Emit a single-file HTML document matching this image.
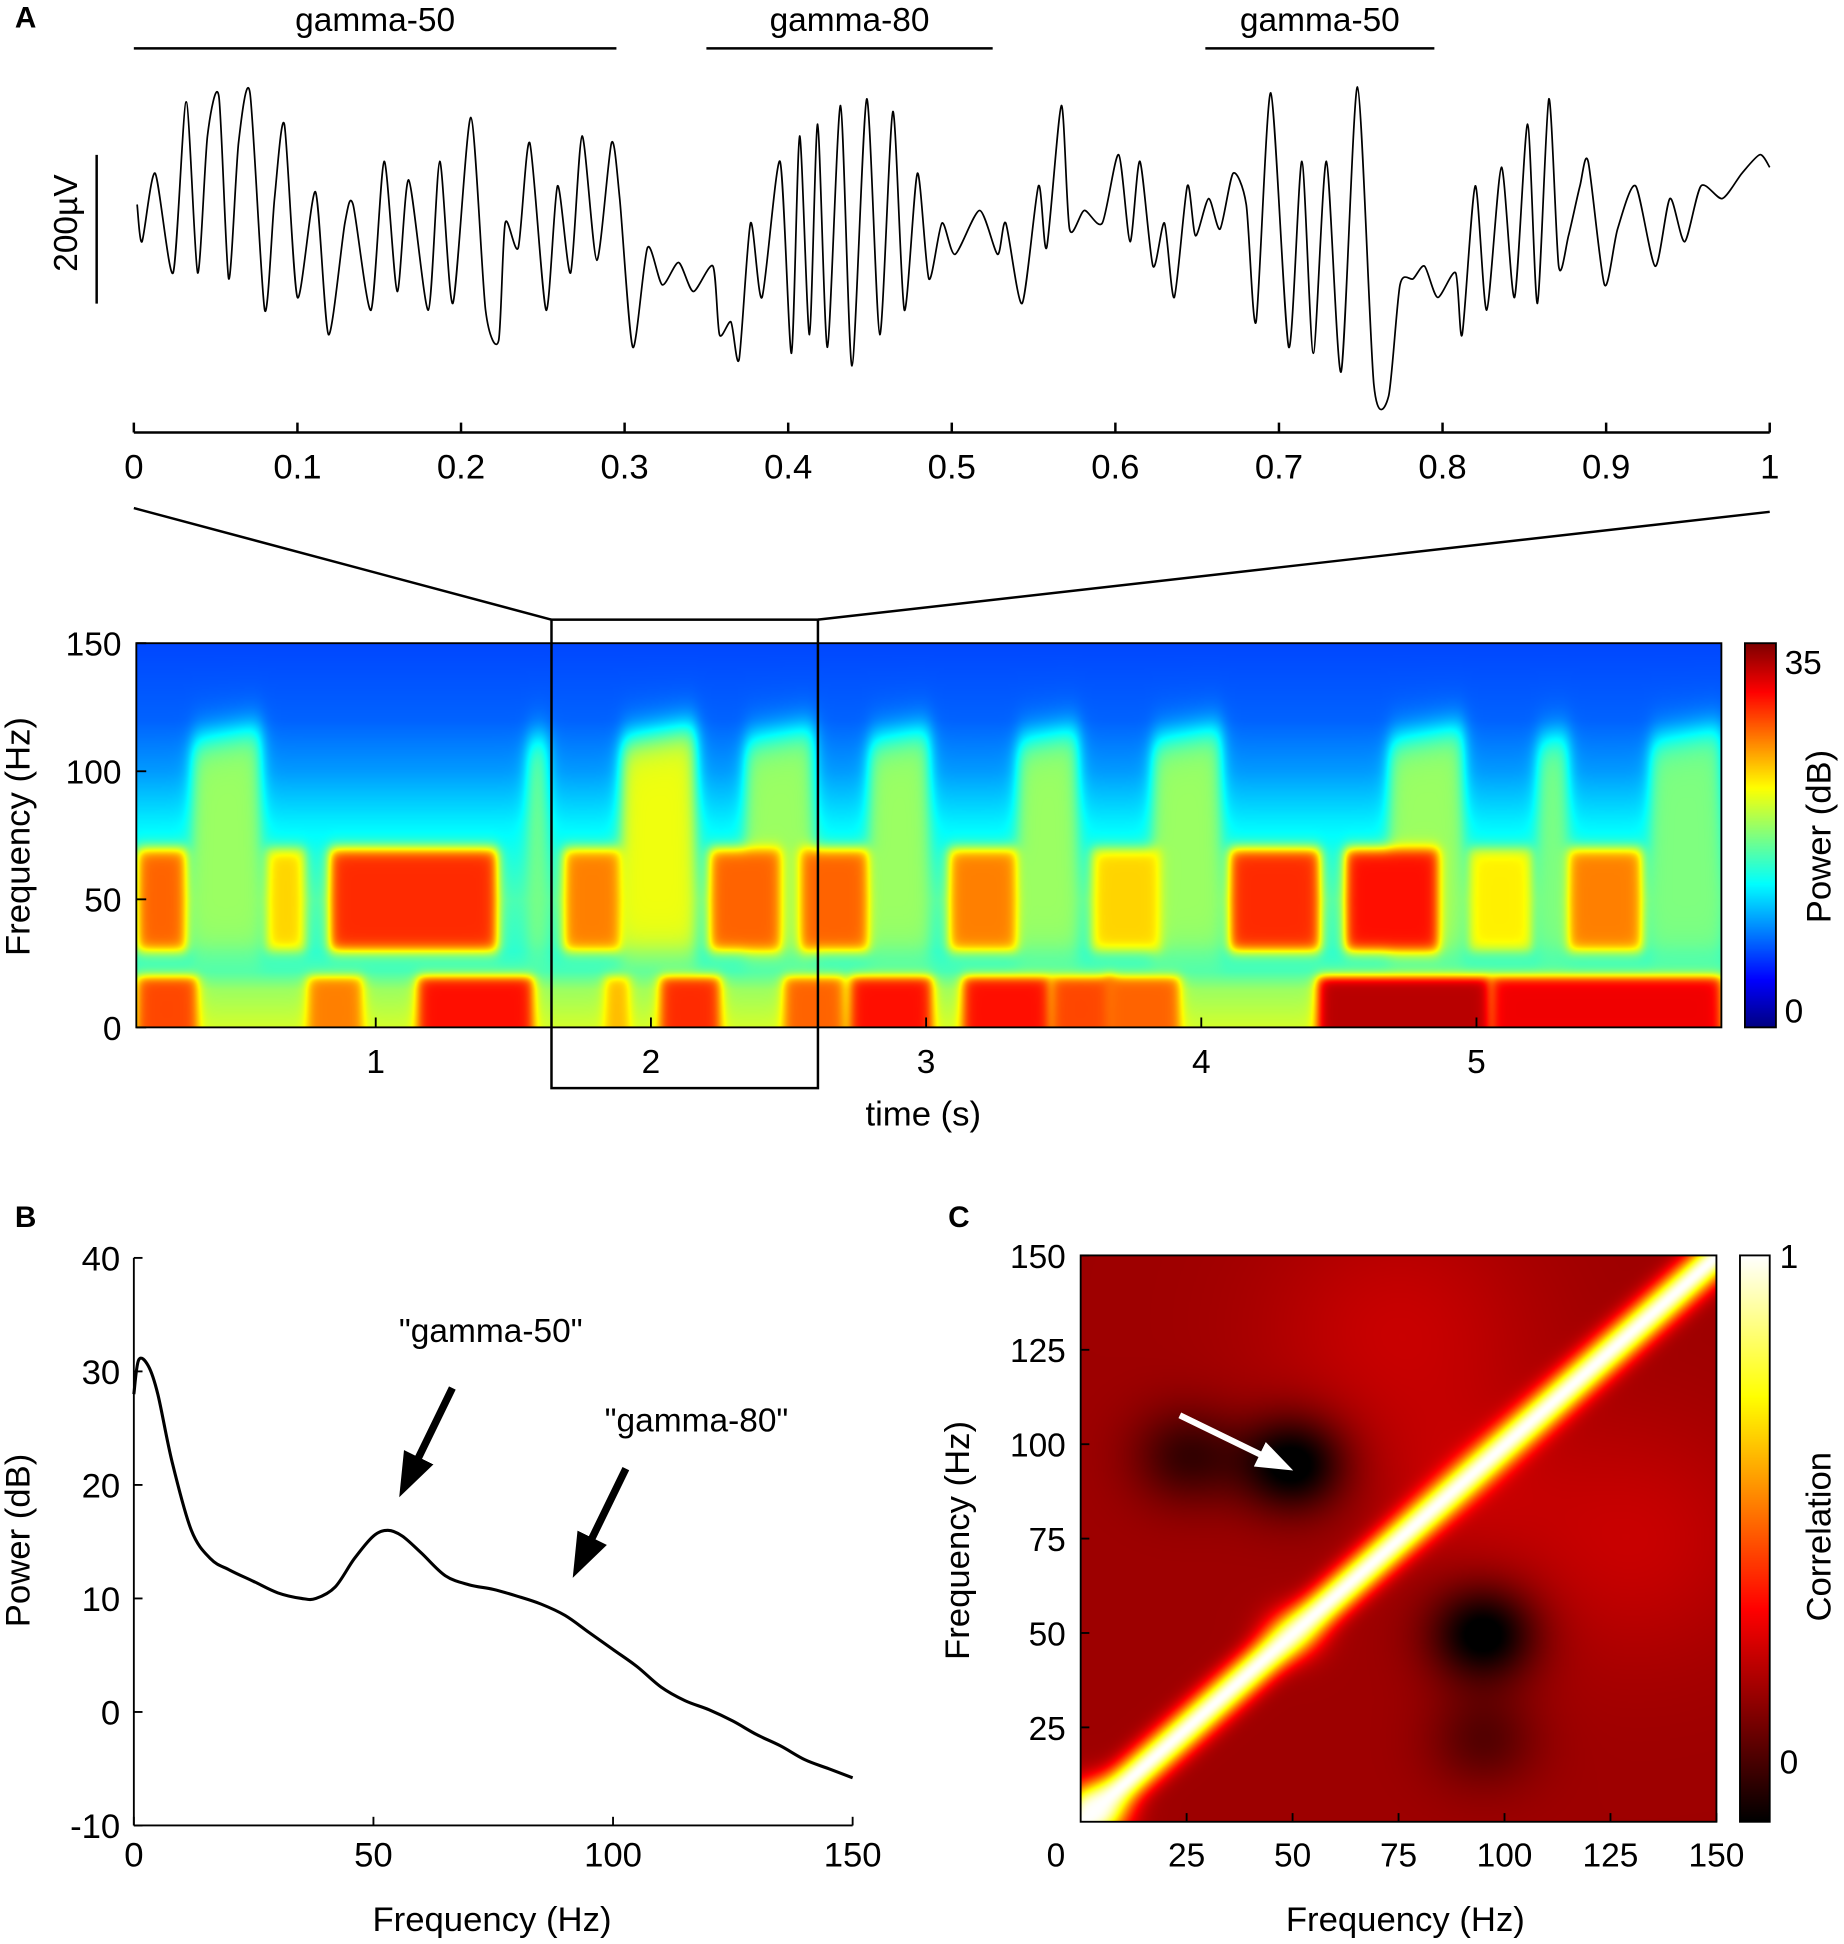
<!DOCTYPE html>
<html><head><meta charset="utf-8">
<style>
html,body{margin:0;padding:0;background:#fff;}
#root{position:relative;width:1844px;height:1944px;overflow:hidden;}
#stage{position:absolute;left:0;top:0;width:1488px;height:1568px;transform:scale(1.2393);transform-origin:0 0;}
canvas{position:absolute;}
svg{position:absolute;left:0;top:0;}
text{font-family:"Liberation Sans",Arial,sans-serif;fill:#000;}
</style></head>
<body>
<div id="root">
<div id="stage">
<canvas id="spec" style="left:110px;top:519px;width:1279px;height:310px" width="1279" height="310"></canvas>
<canvas id="specbar" style="left:1408px;top:519px;width:25px;height:310px" width="25" height="310"></canvas>
<canvas id="corr" style="left:872px;top:1013px;width:513px;height:457px" width="513" height="457"></canvas>
<canvas id="corrbar" style="left:1404px;top:1013px;width:24px;height:457px" width="24" height="457"></canvas>
<svg id="svg" width="1488" height="1568" viewBox="0 0 1488 1568"></svg>
</div>
</div>
<script>
// ---------- Panel A trace data ----------
const traceTimeMs=[2,5,13,24,32,39,45,52,58,64,71,80,86,92,100,111,119,129,134,145,153,161,168,180,187,195,206,215,223,227,235,242,252,259,267,274,283,292,297,305,314,323,333,342,354,358,365,370,377,384,395,402,407,413,418,424,432,439,448,456,464,471,479,486,494,502,517,528,533,543,553,558,567,572,581,592,602,609,615,623,630,636,644,649,657,664,672,680,686,695,706,714,721,729,738,748,758,767,774,782,789,797,808,812,820,827,836,844,852,858,865,871,877,884,889,899,907,918,930,939,948,958,971,983,994,1000];
const traceUv=[25,-25,67,-67,163,-67,117,170,-75,108,175,-117,33,133,-100,42,-150,0,25,-117,83,-92,58,-117,83,-108,142,-117,-158,0,-33,108,-117,50,-67,117,-50,108,33,-167,-33,-83,-53,-92,-58,-150,-133,-183,0,-100,83,-175,117,-150,133,-167,158,-192,167,-150,150,-117,67,-75,0,-42,17,-42,0,-108,50,-33,158,-8,17,0,92,-25,83,-58,0,-100,50,-17,33,-8,67,25,-133,175,-167,83,-175,83,-200,183,-217,-233,-83,-75,-58,-100,-67,-150,50,-117,75,-100,133,-108,167,-58,-17,50,83,-83,-8,50,-58,33,-25,50,33,67,92,75];
const traceTicks=["0","0.1","0.2","0.3","0.4","0.5","0.6","0.7","0.8","0.9","1"];
const bandLabels=["gamma-50","gamma-80","gamma-50"];
const bandStart=[0,0.35,0.655];
const bandEnd=[0.295,0.525,0.795];
// ---------- Spectrogram data ----------
const baseFreq=[0,15,22,30,50,70,80,100,120,150];
const baseDb=[21,19,16,15,16,14,13,10,8,7];
const g50Start=[0.13,0.6,0.83,1.68,2.21,2.54,3.08,3.6,4.1,4.52,4.97,5.33];
const g50End=[0.31,0.74,1.44,1.89,2.47,2.79,3.33,3.85,4.43,4.86,5.2,5.6];
const g50Db=[28,24,30,27,28,28,27,24,30,31,23,27];
const g80Start=[0.33,1.55,1.89,2.34,2.79,3.33,3.82,4.68,5.22,5.63];
const g80End=[0.58,1.62,2.16,2.59,3.01,3.55,4.07,4.95,5.33,5.89];
const g80Db=[19,18,22,19,19,19,19,19,18,18];
const lowStart=[0.13,0.75,1.15,1.83,2.03,2.48,2.72,3.13,3.45,3.65,4.42,5.05];
const lowEnd=[0.35,0.95,1.57,1.92,2.25,2.7,3.02,3.45,3.68,3.92,5.05,5.89];
const lowDb=[29,27,31,25,30,28,31,31,29,28,34,32];
const specTicksX=[1,2,3,4,5];
const specTicksY=[0,50,100,150];
// ---------- Panel B data ----------
const psdFreq=[0,1,3,5,8,12,16,20,25,30,35,38,42,46,50,53,56,60,65,70,75,80,85,90,95,100,105,110,115,120,125,130,135,140,145,150];
const psdDb=[28,31,30.5,28,22,16,13.5,12.5,11.5,10.5,10,10,11,13.5,15.5,16,15.5,14,12,11.2,10.8,10.2,9.5,8.5,7,5.5,4,2.2,1,0.2,-0.8,-2,-3,-4.2,-5,-5.8];
const psdTicksX=[0,50,100,150];
const psdTicksY=[-10,0,10,20,30,40];
// ---------- Panel C data ----------
const corrBase=0.14;
const corrDiagWidth=4.5;
const spotF1=[50,95,25,95,50,75,130,3,90];
const spotF2=[95,50,97,22,50,130,75,3,90];
const spotAmp=[-0.3,-0.3,-0.17,-0.12,0.25,0.07,0.07,0.8,0.05];
const spotWidth=[9,9,9,9,5,22,22,5,15];
const corrTicks=[25,50,75,100,125,150];

const NS="http://www.w3.org/2000/svg";
const svg=document.getElementById('svg');
function el(tag,attrs,parent){const e=document.createElementNS(NS,tag);for(const k in attrs)e.setAttribute(k,attrs[k]);(parent||svg).appendChild(e);return e;}
function txt(x,y,s,size,anchor,parent,extra){const t=el('text',Object.assign({x:x,y:y,'font-size':size,'text-anchor':anchor||'middle'},extra||{}),parent);t.textContent=s;return t;}

// ===== Panel A trace =====
const tx=t=>108+t*1320, ty=v=>180-v*0.6;
let g=el('g',{});


let lbl=txt(12,22,'A',24,'start',g,{'font-weight':'bold'});

for(let i=0;i<bandLabels.length;i++){
  const l=el('line',{x1:tx(bandStart[i]),x2:tx(bandEnd[i]),y1:39,y2:39,stroke:'#000','stroke-width':2},g);
  
  const t=txt((tx(bandStart[i])+tx(bandEnd[i]))/2,25,bandLabels[i],27,'middle',g);
  
}
{
  const P=traceTimeMs.map((t,i)=>[tx(t/1000),ty(traceUv[i])]);
  let d='M'+P[0][0]+','+P[0][1];
  for(let i=0;i<P.length-1;i++){
    const p0=P[Math.max(0,i-1)],p1=P[i],p2=P[i+1],p3=P[Math.min(P.length-1,i+2)];
    const c1=[p1[0]+(p2[0]-p0[0])/8,p1[1]+(p2[1]-p0[1])/8];
    const c2=[p2[0]-(p3[0]-p1[0])/8,p2[1]-(p3[1]-p1[1])/8];
    d+=' C'+c1[0]+','+c1[1]+' '+c2[0]+','+c2[1]+' '+p2[0]+','+p2[1];
  }
  const p=el('path',{d:d,fill:'none',stroke:'#000','stroke-width':1.4},g);
  
}
{
  const sb=el('line',{x1:78,x2:78,y1:125,y2:245,stroke:'#000','stroke-width':2},g);
  
  const st=txt(0,0,'200µV',27,'middle',g,{transform:'translate(62,180) rotate(-90)'});
  
  const ax=el('line',{x1:108,x2:1428,y1:349,y2:349,stroke:'#000','stroke-width':2},g);
  
  traceTicks.forEach((s,i)=>{
    const x=tx(i/10);
    el('line',{x1:x,x2:x,y1:341,y2:349,stroke:'#000','stroke-width':2},g);
    const t=txt(x,386,s,28,'middle',g);
    
  });
  const z1=el('line',{x1:108,y1:410,x2:445,y2:500,stroke:'#000','stroke-width':2},g);
  
  const z2=el('line',{x1:1428,y1:413,x2:660,y2:500,stroke:'#000','stroke-width':2},g);
  
}

// ===== Spectrogram =====
function jet(v){
  const r=Math.min(Math.max(Math.min(4*v-1.5,-4*v+4.5),0),1);
  const gg=Math.min(Math.max(Math.min(4*v-0.5,-4*v+3.5),0),1);
  const b=Math.min(Math.max(Math.min(4*v+0.5,-4*v+2.5),0),1);
  return [r*255|0,gg*255|0,b*255|0];
}
function interp(xs,ys,x){for(let i=0;i<xs.length-1;i++){if(x<=xs[i+1]){const f=(x-xs[i])/(xs[i+1]-xs[i]);return ys[i]+f*(ys[i+1]-ys[i]);}}return ys[ys.length-1];}
function box(t,a,b,e){return 1/(1+Math.exp(-(t-a)/e))*1/(1+Math.exp((t-b)/e));}
const specX=t=>(t-0.13)/(5.89-0.13)*1279;
{
  const c=document.getElementById('spec').getContext('2d');
  const W=1279,H=310;const img=c.createImageData(W,H);
  for(let px=0;px<W;px++){
    const t=0.13+px/W*(5.89-0.13);
    for(let py=0;py<H;py++){
      const f=150*(1-py/H);
      let v=interp(baseFreq,baseDb,f);
      for(let i=0;i<g80Start.length;i++){
        const w=box(t,g80Start[i],g80End[i],0.015)*box(f,28,112+(t-g80Start[i])*20,4);
        v=Math.max(v,v+(g80Db[i]-v)*w);
      }
      for(let i=0;i<g50Start.length;i++){
        const w=box(t,g50Start[i],g50End[i],0.012)*box(f,30,70,1.5);
        v=v+(g50Db[i]-v)*w;
      }
      for(let i=0;i<lowStart.length;i++){
        const w=box(t,lowStart[i],lowEnd[i],0.012)*box(f,-5,20,1.2);
        v=v+(lowDb[i]-v)*w;
      }
      const col=jet(Math.min(Math.max(v/36,0),1));
      const k=(py*W+px)*4;img.data[k]=col[0];img.data[k+1]=col[1];img.data[k+2]=col[2];img.data[k+3]=255;
    }
  }
  c.putImageData(img,0,0);
  const cb=document.getElementById('specbar').getContext('2d');
  for(let py=0;py<310;py++){const col=jet(1-py/310);cb.fillStyle='rgb('+col+')';cb.fillRect(0,py,25,1);}
}
{
  const gs=el('g',{});
  
  el('rect',{x:110,y:519,width:1279,height:310,fill:'none',stroke:'#000','stroke-width':1.5},gs);
  specTicksX.forEach(t=>{const x=110+specX(t);el('line',{x1:x,x2:x,y1:829,y2:821,stroke:'#000','stroke-width':1.5},gs);
    const l=txt(x,866,String(t),27,'middle',gs);});
  specTicksY.forEach(f=>{const y=829-f/150*310;el('line',{x1:110,x2:118,y1:y,y2:y,stroke:'#000','stroke-width':1.5},gs);
    const l=txt(98,y+10,String(f),27,'end',gs);});
  const xl=txt(745,908,'time (s)',28,'middle',gs);
  const yl=txt(0,0,'Frequency (Hz)',28,'middle',gs,{transform:'translate(24,675) rotate(-90)'});
  const r=el('rect',{x:445,y:500,width:215,height:378,fill:'none',stroke:'#000','stroke-width':2},gs);
  
  el('rect',{x:1408,y:519,width:25,height:310,fill:'none',stroke:'#000','stroke-width':1.5},gs);
  const c1=txt(1440,544,'35',27,'start',gs);
  const c0=txt(1440,825,'0',27,'start',gs);
  const ct=txt(0,0,'Power (dB)',28,'middle',gs,{transform:'translate(1477,675) rotate(-90)'});
}

// ===== Panel B =====
{
  const gb=el('g',{});
  
  const bx=f=>108+f/150*580, by=v=>1473-(v+10)/50*458;
  const L=txt(12,990,'B',24,'start',gb,{'font-weight':'bold'});
  el('line',{x1:108,x2:108,y1:1015,y2:1473,stroke:'#000','stroke-width':1.5},gb);
  el('line',{x1:108,x2:688,y1:1473,y2:1473,stroke:'#000','stroke-width':1.5},gb);
  psdTicksX.forEach(f=>{const x=bx(f);el('line',{x1:x,x2:x,y1:1473,y2:1466,stroke:'#000','stroke-width':1.5},gb);
    const l=txt(x,1506,String(f),28,'middle',gb);});
  psdTicksY.forEach(v=>{const y=by(v);el('line',{x1:108,x2:115,y1:y,y2:y,stroke:'#000','stroke-width':1.5},gb);
    const l=txt(97,y+10,String(v),28,'end',gb);});
  const P=psdFreq.map((f,i)=>[bx(f),by(psdDb[i])]);
  let d='M'+P[0][0]+','+P[0][1];
  for(let i=0;i<P.length-1;i++){const p0=P[Math.max(0,i-1)],p1=P[i],p2=P[i+1],p3=P[Math.min(P.length-1,i+2)];
    d+=' C'+(p1[0]+(p2[0]-p0[0])/6)+','+(p1[1]+(p2[1]-p0[1])/6)+' '+(p2[0]-(p3[0]-p1[0])/6)+','+(p2[1]-(p3[1]-p1[1])/6)+' '+p2[0]+','+p2[1];}
  const pl=el('path',{d:d,fill:'none',stroke:'#000','stroke-width':2.5},gb);
  
  const defs=el('defs',{});
  const mk=el('marker',{id:'ab',markerWidth:6,markerHeight:6,refX:3,refY:3,orient:'auto',markerUnits:'strokeWidth'},defs);
  el('path',{d:'M0,0.8 L6,3 L0,5.2 z',fill:'#000'},mk);
  const mw=el('marker',{id:'aw',markerWidth:6,markerHeight:6,refX:3,refY:3,orient:'auto',markerUnits:'strokeWidth'},defs);
  el('path',{d:'M0,0.8 L6,3 L0,5.2 z',fill:'#fff'},mw);
  const a1=el('line',{x1:365,y1:1120,x2:330,y2:1192,stroke:'#000','stroke-width':6,'marker-end':'url(#ab)'},gb);
  
  const a2=el('line',{x1:505,y1:1185,x2:470,y2:1257,stroke:'#000','stroke-width':6,'marker-end':'url(#ab)'},gb);
  
  const t1=txt(396,1083,'"gamma-50"',27,'middle',gb);
  const t2=txt(562,1155,'"gamma-80"',27,'middle',gb);
  const xl=txt(397,1558,'Frequency (Hz)',28,'middle',gb);
  const yl=txt(0,0,'Power (dB)',28,'middle',gb,{transform:'translate(24,1243) rotate(-90)'});
}

// ===== Panel C =====
function hot(p){p=Math.min(Math.max(p,0),1);return [Math.min(1,p/0.375)*255|0,Math.min(Math.max((p-0.375)/0.375,0),1)*255|0,Math.min(Math.max((p-0.75)/0.25,0),1)*255|0];}
const vmin=-0.12,vmax=1;
{
  const c=document.getElementById('corr').getContext('2d');
  const W=513,H=457;const img=c.createImageData(W,H);
  for(let px=0;px<W;px++){const f1=px/W*150;
    for(let py=0;py<H;py++){const f2=150*(1-py/H);
      let v=corrBase;
      for(let i=0;i<spotF1.length;i++){const d2=((f1-spotF1[i])**2+(f2-spotF2[i])**2)/(2*spotWidth[i]**2);v+=spotAmp[i]*Math.exp(-d2);}
      const dg=Math.exp(-((f1-f2)**2)/(2*corrDiagWidth**2));
      v=v+(1-v)*dg;
      const col=hot((v-vmin)/(vmax-vmin));
      const k=(py*W+px)*4;img.data[k]=col[0];img.data[k+1]=col[1];img.data[k+2]=col[2];img.data[k+3]=255;}}
  c.putImageData(img,0,0);
  const cb=document.getElementById('corrbar').getContext('2d');
  for(let py=0;py<457;py++){const col=hot(1-py/457);cb.fillStyle='rgb('+col+')';cb.fillRect(0,py,24,1);}
}
{
  const gc=el('g',{});
  
  const cx=f=>872+f/150*513, cy=f=>1470-f/150*457;
  const L=txt(765,990,'C',24,'start',gc,{'font-weight':'bold'});
  el('rect',{x:872,y:1013,width:513,height:457,fill:'none',stroke:'#000','stroke-width':1.5},gc);
  const z=txt(852,1506,'0',27,'middle',gc);
  corrTicks.forEach(f=>{
    const x=cx(f),y=cy(f);
    el('line',{x1:x,x2:x,y1:1470,y2:1463,stroke:'#000','stroke-width':1.5},gc);
    el('line',{x1:872,x2:879,y1:y,y2:y,stroke:'#000','stroke-width':1.5},gc);
    const a=txt(x,1506,String(f),27,'middle',gc);
    const b=txt(860,y+10,String(f),27,'end',gc);
  });
  const wa=el('line',{x1:952,y1:1142,x2:1030,y2:1180,stroke:'#fff','stroke-width':5,'marker-end':'url(#aw)'},gc);
  
  el('rect',{x:1404,y:1013,width:24,height:457,fill:'none',stroke:'#000','stroke-width':1.5},gc);
  const y1=1470-(1-vmin)/(vmax-vmin)*457, y0=1470-(0-vmin)/(vmax-vmin)*457;
  const c1=txt(1436,y1+10,'1',27,'start',gc);
  const c0=txt(1436,y0+10,'0',27,'start',gc);
  const ct=txt(0,0,'Correlation',28,'middle',gc,{transform:'translate(1477,1240) rotate(-90)'});
  const xl=txt(1134,1558,'Frequency (Hz)',28,'middle',gc);
  const yl=txt(0,0,'Frequency (Hz)',28,'middle',gc,{transform:'translate(782,1243) rotate(-90)'});
}
</script>
</body></html>
